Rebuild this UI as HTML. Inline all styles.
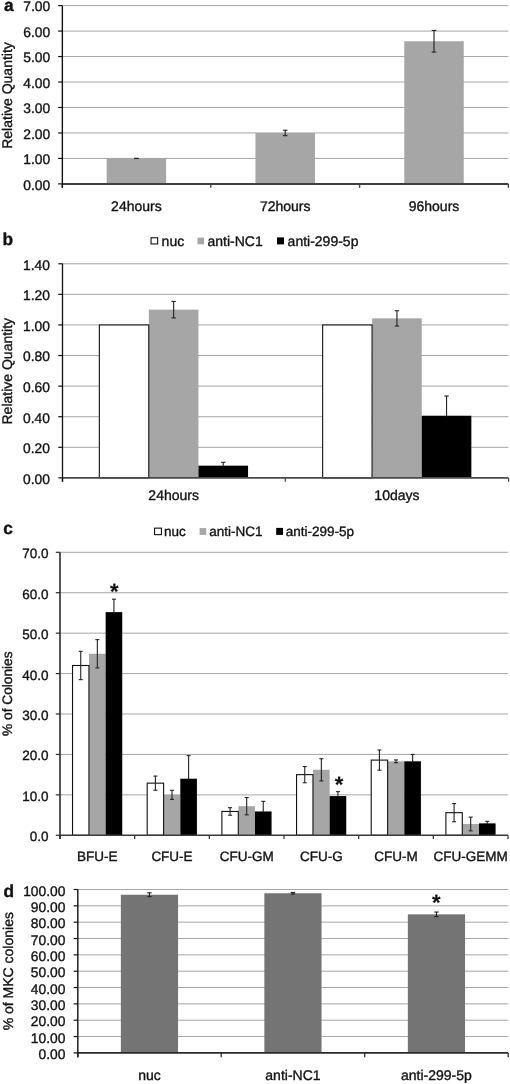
<!DOCTYPE html>
<html><head><meta charset="utf-8"><style>
html,body{margin:0;padding:0;background:#fff;}
body{width:510px;height:1084px;overflow:hidden;}
svg{display:block;font-family:"Liberation Sans",sans-serif;filter:grayscale(1);text-rendering:geometricPrecision;}
text{fill:#111;stroke:#111;stroke-width:0.35px;}
</style></head><body>
<svg width="510" height="1084" viewBox="0 0 510 1084">
<rect x="0" y="0" width="510" height="1084" fill="#fff"/>
<text x="3.90" y="10.90" font-size="17.3" text-anchor="start" font-weight="bold">a</text>
<line x1="62.35" y1="158.43" x2="508.30" y2="158.43" stroke="#a6a6a6" stroke-width="1"/>
<line x1="62.35" y1="132.96" x2="508.30" y2="132.96" stroke="#a6a6a6" stroke-width="1"/>
<line x1="62.35" y1="107.49" x2="508.30" y2="107.49" stroke="#a6a6a6" stroke-width="1"/>
<line x1="62.35" y1="82.02" x2="508.30" y2="82.02" stroke="#a6a6a6" stroke-width="1"/>
<line x1="62.35" y1="56.55" x2="508.30" y2="56.55" stroke="#a6a6a6" stroke-width="1"/>
<line x1="62.35" y1="31.08" x2="508.30" y2="31.08" stroke="#a6a6a6" stroke-width="1"/>
<line x1="62.35" y1="5.61" x2="508.30" y2="5.61" stroke="#a6a6a6" stroke-width="1"/>
<rect x="106.65" y="158.43" width="59.50" height="25.47" fill="#a6a6a6"/>
<line x1="136.40" y1="158.33" x2="136.40" y2="158.53" stroke="#222" stroke-width="1.1"/>
<line x1="134.10" y1="158.33" x2="138.70" y2="158.33" stroke="#222" stroke-width="1.1"/>
<line x1="134.10" y1="158.53" x2="138.70" y2="158.53" stroke="#222" stroke-width="1.1"/>
<rect x="255.45" y="132.96" width="59.50" height="50.94" fill="#a6a6a6"/>
<line x1="285.20" y1="130.23" x2="285.20" y2="135.69" stroke="#222" stroke-width="1.1"/>
<line x1="282.90" y1="130.23" x2="287.50" y2="130.23" stroke="#222" stroke-width="1.1"/>
<line x1="282.90" y1="135.69" x2="287.50" y2="135.69" stroke="#222" stroke-width="1.1"/>
<rect x="404.25" y="41.27" width="59.50" height="142.63" fill="#a6a6a6"/>
<line x1="434.00" y1="30.44" x2="434.00" y2="52.09" stroke="#222" stroke-width="1.1"/>
<line x1="431.70" y1="30.44" x2="436.30" y2="30.44" stroke="#222" stroke-width="1.1"/>
<line x1="431.70" y1="52.09" x2="436.30" y2="52.09" stroke="#222" stroke-width="1.1"/>
<line x1="58.15" y1="183.90" x2="62.35" y2="183.90" stroke="#111" stroke-width="1.2"/>
<text x="50.10" y="189.70" font-size="13.8" text-anchor="end" font-weight="normal">0.00</text>
<line x1="58.15" y1="158.43" x2="62.35" y2="158.43" stroke="#111" stroke-width="1.2"/>
<text x="50.10" y="164.23" font-size="13.8" text-anchor="end" font-weight="normal">1.00</text>
<line x1="58.15" y1="132.96" x2="62.35" y2="132.96" stroke="#111" stroke-width="1.2"/>
<text x="50.10" y="138.76" font-size="13.8" text-anchor="end" font-weight="normal">2.00</text>
<line x1="58.15" y1="107.49" x2="62.35" y2="107.49" stroke="#111" stroke-width="1.2"/>
<text x="50.10" y="113.29" font-size="13.8" text-anchor="end" font-weight="normal">3.00</text>
<line x1="58.15" y1="82.02" x2="62.35" y2="82.02" stroke="#111" stroke-width="1.2"/>
<text x="50.10" y="87.82" font-size="13.8" text-anchor="end" font-weight="normal">4.00</text>
<line x1="58.15" y1="56.55" x2="62.35" y2="56.55" stroke="#111" stroke-width="1.2"/>
<text x="50.10" y="62.35" font-size="13.8" text-anchor="end" font-weight="normal">5.00</text>
<line x1="58.15" y1="31.08" x2="62.35" y2="31.08" stroke="#111" stroke-width="1.2"/>
<text x="50.10" y="36.88" font-size="13.8" text-anchor="end" font-weight="normal">6.00</text>
<line x1="58.15" y1="5.61" x2="62.35" y2="5.61" stroke="#111" stroke-width="1.2"/>
<text x="50.10" y="11.41" font-size="13.8" text-anchor="end" font-weight="normal">7.00</text>
<line x1="62.35" y1="183.90" x2="508.30" y2="183.90" stroke="#404040" stroke-width="2.0"/>
<line x1="62.35" y1="183.90" x2="62.35" y2="187.80" stroke="#404040" stroke-width="1.3"/>
<line x1="210.80" y1="183.90" x2="210.80" y2="187.80" stroke="#404040" stroke-width="1.3"/>
<line x1="359.60" y1="183.90" x2="359.60" y2="187.80" stroke="#404040" stroke-width="1.3"/>
<line x1="508.40" y1="183.90" x2="508.40" y2="187.80" stroke="#404040" stroke-width="1.3"/>
<line x1="62.35" y1="5.61" x2="62.35" y2="187.80" stroke="#111" stroke-width="1.4"/>
<text x="136.40" y="210.70" font-size="14" text-anchor="middle" font-weight="normal">24hours</text>
<text x="285.20" y="210.70" font-size="14" text-anchor="middle" font-weight="normal">72hours</text>
<text x="434.00" y="210.70" font-size="14" text-anchor="middle" font-weight="normal">96hours</text>
<text x="0.00" y="0.00" font-size="14" text-anchor="middle" font-weight="normal" transform="translate(12.2,95.5) rotate(-90)">Relative Quantity</text>
<text x="2.60" y="244.80" font-size="17.3" text-anchor="start" font-weight="bold">b</text>
<rect x="151.05" y="237.75" width="6.60" height="6.20" fill="#fff" stroke="#111" stroke-width="1.1"/>
<text x="161.60" y="245.90" font-size="14" text-anchor="start" font-weight="normal">nuc</text>
<rect x="197.50" y="237.60" width="6.50" height="6.70" fill="#a6a6a6"/>
<text x="207.50" y="245.90" font-size="14" text-anchor="start" font-weight="normal">anti-NC1</text>
<rect x="277.00" y="237.40" width="7.00" height="7.00" fill="#000"/>
<text x="287.60" y="245.90" font-size="14" text-anchor="start" font-weight="normal">anti-299-5p</text>
<line x1="62.50" y1="447.31" x2="508.30" y2="447.31" stroke="#a6a6a6" stroke-width="1"/>
<line x1="62.50" y1="416.72" x2="508.30" y2="416.72" stroke="#a6a6a6" stroke-width="1"/>
<line x1="62.50" y1="386.13" x2="508.30" y2="386.13" stroke="#a6a6a6" stroke-width="1"/>
<line x1="62.50" y1="355.54" x2="508.30" y2="355.54" stroke="#a6a6a6" stroke-width="1"/>
<line x1="62.50" y1="324.95" x2="508.30" y2="324.95" stroke="#a6a6a6" stroke-width="1"/>
<line x1="62.50" y1="294.36" x2="508.30" y2="294.36" stroke="#a6a6a6" stroke-width="1"/>
<line x1="62.50" y1="263.77" x2="508.30" y2="263.77" stroke="#a6a6a6" stroke-width="1"/>
<rect x="148.85" y="309.65" width="49.60" height="168.25" fill="#a6a6a6"/>
<rect x="198.45" y="465.66" width="49.60" height="12.24" fill="#000"/>
<rect x="99.35" y="324.95" width="49.40" height="152.95" fill="#fff" stroke="#111" stroke-width="1.1"/>
<line x1="173.65" y1="301.40" x2="173.65" y2="317.91" stroke="#222" stroke-width="1.1"/>
<line x1="171.45" y1="301.40" x2="175.85" y2="301.40" stroke="#222" stroke-width="1.1"/>
<line x1="171.45" y1="317.91" x2="175.85" y2="317.91" stroke="#222" stroke-width="1.1"/>
<line x1="223.25" y1="462.30" x2="223.25" y2="466.66" stroke="#222" stroke-width="1.1"/>
<line x1="221.05" y1="462.30" x2="225.45" y2="462.30" stroke="#222" stroke-width="1.1"/>
<rect x="372.15" y="318.37" width="49.60" height="159.53" fill="#a6a6a6"/>
<rect x="421.75" y="415.73" width="49.60" height="62.17" fill="#000"/>
<rect x="322.65" y="324.95" width="49.40" height="152.95" fill="#fff" stroke="#111" stroke-width="1.1"/>
<line x1="396.95" y1="310.73" x2="396.95" y2="326.02" stroke="#222" stroke-width="1.1"/>
<line x1="394.75" y1="310.73" x2="399.15" y2="310.73" stroke="#222" stroke-width="1.1"/>
<line x1="394.75" y1="326.02" x2="399.15" y2="326.02" stroke="#222" stroke-width="1.1"/>
<line x1="446.55" y1="396.00" x2="446.55" y2="416.73" stroke="#222" stroke-width="1.1"/>
<line x1="444.35" y1="396.00" x2="448.75" y2="396.00" stroke="#222" stroke-width="1.1"/>
<line x1="58.30" y1="477.90" x2="62.50" y2="477.90" stroke="#111" stroke-width="1.2"/>
<text x="49.90" y="483.80" font-size="13.8" text-anchor="end" font-weight="normal">0.00</text>
<line x1="58.30" y1="447.31" x2="62.50" y2="447.31" stroke="#111" stroke-width="1.2"/>
<text x="49.90" y="453.21" font-size="13.8" text-anchor="end" font-weight="normal">0.20</text>
<line x1="58.30" y1="416.72" x2="62.50" y2="416.72" stroke="#111" stroke-width="1.2"/>
<text x="49.90" y="422.62" font-size="13.8" text-anchor="end" font-weight="normal">0.40</text>
<line x1="58.30" y1="386.13" x2="62.50" y2="386.13" stroke="#111" stroke-width="1.2"/>
<text x="49.90" y="392.03" font-size="13.8" text-anchor="end" font-weight="normal">0.60</text>
<line x1="58.30" y1="355.54" x2="62.50" y2="355.54" stroke="#111" stroke-width="1.2"/>
<text x="49.90" y="361.44" font-size="13.8" text-anchor="end" font-weight="normal">0.80</text>
<line x1="58.30" y1="324.95" x2="62.50" y2="324.95" stroke="#111" stroke-width="1.2"/>
<text x="49.90" y="330.85" font-size="13.8" text-anchor="end" font-weight="normal">1.00</text>
<line x1="58.30" y1="294.36" x2="62.50" y2="294.36" stroke="#111" stroke-width="1.2"/>
<text x="49.90" y="300.26" font-size="13.8" text-anchor="end" font-weight="normal">1.20</text>
<line x1="58.30" y1="263.77" x2="62.50" y2="263.77" stroke="#111" stroke-width="1.2"/>
<text x="49.90" y="269.67" font-size="13.8" text-anchor="end" font-weight="normal">1.40</text>
<line x1="62.50" y1="477.90" x2="508.30" y2="477.90" stroke="#4a4a4a" stroke-width="1.7"/>
<line x1="62.50" y1="477.90" x2="62.50" y2="481.80" stroke="#4a4a4a" stroke-width="1.3"/>
<line x1="285.30" y1="477.90" x2="285.30" y2="481.80" stroke="#4a4a4a" stroke-width="1.3"/>
<line x1="508.60" y1="477.90" x2="508.60" y2="481.80" stroke="#4a4a4a" stroke-width="1.3"/>
<line x1="62.50" y1="263.77" x2="62.50" y2="481.80" stroke="#111" stroke-width="1.3"/>
<text x="173.65" y="499.90" font-size="14" text-anchor="middle" font-weight="normal">24hours</text>
<text x="396.95" y="499.90" font-size="14" text-anchor="middle" font-weight="normal">10days</text>
<text x="0.00" y="0.00" font-size="14" text-anchor="middle" font-weight="normal" transform="translate(12.2,371.2) rotate(-90)">Relative Quantity</text>
<text x="3.20" y="534.40" font-size="17.3" text-anchor="start" font-weight="bold">c</text>
<rect x="154.55" y="528.15" width="6.90" height="6.50" fill="#fff" stroke="#111" stroke-width="1.1"/>
<text x="164.00" y="535.60" font-size="13.5" text-anchor="start" font-weight="normal">nuc</text>
<rect x="199.60" y="528.10" width="6.60" height="6.80" fill="#a6a6a6"/>
<text x="209.20" y="535.60" font-size="13.5" text-anchor="start" font-weight="normal">anti-NC1</text>
<rect x="276.20" y="527.90" width="6.80" height="7.00" fill="#000"/>
<text x="285.80" y="535.60" font-size="13.5" text-anchor="start" font-weight="normal">anti-299-5p</text>
<line x1="60.00" y1="794.87" x2="508.00" y2="794.87" stroke="#a6a6a6" stroke-width="1"/>
<line x1="60.00" y1="754.44" x2="508.00" y2="754.44" stroke="#a6a6a6" stroke-width="1"/>
<line x1="60.00" y1="714.01" x2="508.00" y2="714.01" stroke="#a6a6a6" stroke-width="1"/>
<line x1="60.00" y1="673.58" x2="508.00" y2="673.58" stroke="#a6a6a6" stroke-width="1"/>
<line x1="60.00" y1="633.15" x2="508.00" y2="633.15" stroke="#a6a6a6" stroke-width="1"/>
<line x1="60.00" y1="592.72" x2="508.00" y2="592.72" stroke="#a6a6a6" stroke-width="1"/>
<line x1="60.00" y1="552.29" x2="508.00" y2="552.29" stroke="#a6a6a6" stroke-width="1"/>
<rect x="89.03" y="653.77" width="16.60" height="181.53" fill="#a6a6a6"/>
<rect x="105.64" y="612.13" width="16.60" height="223.17" fill="#000"/>
<rect x="72.53" y="665.49" width="16.40" height="169.81" fill="#fff" stroke="#111" stroke-width="1.1"/>
<line x1="80.73" y1="651.34" x2="80.73" y2="679.64" stroke="#222" stroke-width="1.1"/>
<line x1="78.73" y1="651.34" x2="82.73" y2="651.34" stroke="#222" stroke-width="1.1"/>
<line x1="78.73" y1="679.64" x2="82.73" y2="679.64" stroke="#222" stroke-width="1.1"/>
<line x1="97.34" y1="639.62" x2="97.34" y2="667.92" stroke="#222" stroke-width="1.1"/>
<line x1="95.34" y1="639.62" x2="99.34" y2="639.62" stroke="#222" stroke-width="1.1"/>
<line x1="95.34" y1="667.92" x2="99.34" y2="667.92" stroke="#222" stroke-width="1.1"/>
<line x1="113.94" y1="599.19" x2="113.94" y2="613.13" stroke="#222" stroke-width="1.1"/>
<line x1="111.94" y1="599.19" x2="115.94" y2="599.19" stroke="#222" stroke-width="1.1"/>
<rect x="163.70" y="794.87" width="16.60" height="40.43" fill="#a6a6a6"/>
<rect x="180.31" y="778.70" width="16.60" height="56.60" fill="#000"/>
<rect x="147.20" y="783.15" width="16.40" height="52.15" fill="#fff" stroke="#111" stroke-width="1.1"/>
<line x1="155.41" y1="776.07" x2="155.41" y2="790.22" stroke="#222" stroke-width="1.1"/>
<line x1="153.41" y1="776.07" x2="157.41" y2="776.07" stroke="#222" stroke-width="1.1"/>
<line x1="153.41" y1="790.22" x2="157.41" y2="790.22" stroke="#222" stroke-width="1.1"/>
<line x1="172.00" y1="790.34" x2="172.00" y2="799.40" stroke="#222" stroke-width="1.1"/>
<line x1="170.00" y1="790.34" x2="174.00" y2="790.34" stroke="#222" stroke-width="1.1"/>
<line x1="170.00" y1="799.40" x2="174.00" y2="799.40" stroke="#222" stroke-width="1.1"/>
<line x1="188.60" y1="755.65" x2="188.60" y2="779.70" stroke="#222" stroke-width="1.1"/>
<line x1="186.60" y1="755.65" x2="190.60" y2="755.65" stroke="#222" stroke-width="1.1"/>
<rect x="238.38" y="806.19" width="16.60" height="29.11" fill="#a6a6a6"/>
<rect x="254.98" y="811.45" width="16.60" height="23.85" fill="#000"/>
<rect x="221.88" y="811.45" width="16.40" height="23.85" fill="#fff" stroke="#111" stroke-width="1.1"/>
<line x1="230.08" y1="807.69" x2="230.08" y2="815.21" stroke="#222" stroke-width="1.1"/>
<line x1="228.08" y1="807.69" x2="232.08" y2="807.69" stroke="#222" stroke-width="1.1"/>
<line x1="228.08" y1="815.21" x2="232.08" y2="815.21" stroke="#222" stroke-width="1.1"/>
<line x1="246.68" y1="797.54" x2="246.68" y2="814.84" stroke="#222" stroke-width="1.1"/>
<line x1="244.68" y1="797.54" x2="248.68" y2="797.54" stroke="#222" stroke-width="1.1"/>
<line x1="244.68" y1="814.84" x2="248.68" y2="814.84" stroke="#222" stroke-width="1.1"/>
<line x1="263.27" y1="801.34" x2="263.27" y2="812.45" stroke="#222" stroke-width="1.1"/>
<line x1="261.27" y1="801.34" x2="265.27" y2="801.34" stroke="#222" stroke-width="1.1"/>
<rect x="313.05" y="769.80" width="16.60" height="65.50" fill="#a6a6a6"/>
<rect x="329.65" y="796.08" width="16.60" height="39.22" fill="#000"/>
<rect x="296.55" y="774.65" width="16.40" height="60.64" fill="#fff" stroke="#111" stroke-width="1.1"/>
<line x1="304.75" y1="766.57" x2="304.75" y2="782.74" stroke="#222" stroke-width="1.1"/>
<line x1="302.75" y1="766.57" x2="306.75" y2="766.57" stroke="#222" stroke-width="1.1"/>
<line x1="302.75" y1="782.74" x2="306.75" y2="782.74" stroke="#222" stroke-width="1.1"/>
<line x1="321.35" y1="758.69" x2="321.35" y2="780.92" stroke="#222" stroke-width="1.1"/>
<line x1="319.35" y1="758.69" x2="323.35" y2="758.69" stroke="#222" stroke-width="1.1"/>
<line x1="319.35" y1="780.92" x2="323.35" y2="780.92" stroke="#222" stroke-width="1.1"/>
<line x1="337.95" y1="791.64" x2="337.95" y2="797.08" stroke="#222" stroke-width="1.1"/>
<line x1="335.95" y1="791.64" x2="339.95" y2="791.64" stroke="#222" stroke-width="1.1"/>
<rect x="387.72" y="761.31" width="16.60" height="73.99" fill="#a6a6a6"/>
<rect x="404.31" y="761.31" width="16.60" height="73.99" fill="#000"/>
<rect x="371.22" y="760.10" width="16.40" height="75.20" fill="#fff" stroke="#111" stroke-width="1.1"/>
<line x1="379.42" y1="749.99" x2="379.42" y2="770.21" stroke="#222" stroke-width="1.1"/>
<line x1="377.42" y1="749.99" x2="381.42" y2="749.99" stroke="#222" stroke-width="1.1"/>
<line x1="377.42" y1="770.21" x2="381.42" y2="770.21" stroke="#222" stroke-width="1.1"/>
<line x1="396.01" y1="759.90" x2="396.01" y2="762.73" stroke="#222" stroke-width="1.1"/>
<line x1="394.01" y1="759.90" x2="398.01" y2="759.90" stroke="#222" stroke-width="1.1"/>
<line x1="394.01" y1="762.73" x2="398.01" y2="762.73" stroke="#222" stroke-width="1.1"/>
<line x1="412.62" y1="754.44" x2="412.62" y2="762.31" stroke="#222" stroke-width="1.1"/>
<line x1="410.62" y1="754.44" x2="414.62" y2="754.44" stroke="#222" stroke-width="1.1"/>
<rect x="462.39" y="823.98" width="16.60" height="11.32" fill="#a6a6a6"/>
<rect x="478.99" y="823.37" width="16.60" height="11.93" fill="#000"/>
<rect x="445.89" y="812.66" width="16.40" height="22.64" fill="#fff" stroke="#111" stroke-width="1.1"/>
<line x1="454.09" y1="803.56" x2="454.09" y2="821.76" stroke="#222" stroke-width="1.1"/>
<line x1="452.09" y1="803.56" x2="456.09" y2="803.56" stroke="#222" stroke-width="1.1"/>
<line x1="452.09" y1="821.76" x2="456.09" y2="821.76" stroke="#222" stroke-width="1.1"/>
<line x1="470.69" y1="817.11" x2="470.69" y2="830.85" stroke="#222" stroke-width="1.1"/>
<line x1="468.69" y1="817.11" x2="472.69" y2="817.11" stroke="#222" stroke-width="1.1"/>
<line x1="468.69" y1="830.85" x2="472.69" y2="830.85" stroke="#222" stroke-width="1.1"/>
<line x1="487.29" y1="821.35" x2="487.29" y2="824.37" stroke="#222" stroke-width="1.1"/>
<line x1="485.29" y1="821.35" x2="489.29" y2="821.35" stroke="#222" stroke-width="1.1"/>
<line x1="55.80" y1="835.30" x2="60.00" y2="835.30" stroke="#2a2a2a" stroke-width="1.2"/>
<text x="48.50" y="841.30" font-size="13.5" text-anchor="end" font-weight="normal">0.0</text>
<line x1="55.80" y1="794.87" x2="60.00" y2="794.87" stroke="#2a2a2a" stroke-width="1.2"/>
<text x="48.50" y="800.87" font-size="13.5" text-anchor="end" font-weight="normal">10.0</text>
<line x1="55.80" y1="754.44" x2="60.00" y2="754.44" stroke="#2a2a2a" stroke-width="1.2"/>
<text x="48.50" y="760.44" font-size="13.5" text-anchor="end" font-weight="normal">20.0</text>
<line x1="55.80" y1="714.01" x2="60.00" y2="714.01" stroke="#2a2a2a" stroke-width="1.2"/>
<text x="48.50" y="720.01" font-size="13.5" text-anchor="end" font-weight="normal">30.0</text>
<line x1="55.80" y1="673.58" x2="60.00" y2="673.58" stroke="#2a2a2a" stroke-width="1.2"/>
<text x="48.50" y="679.58" font-size="13.5" text-anchor="end" font-weight="normal">40.0</text>
<line x1="55.80" y1="633.15" x2="60.00" y2="633.15" stroke="#2a2a2a" stroke-width="1.2"/>
<text x="48.50" y="639.15" font-size="13.5" text-anchor="end" font-weight="normal">50.0</text>
<line x1="55.80" y1="592.72" x2="60.00" y2="592.72" stroke="#2a2a2a" stroke-width="1.2"/>
<text x="48.50" y="598.72" font-size="13.5" text-anchor="end" font-weight="normal">60.0</text>
<line x1="55.80" y1="552.29" x2="60.00" y2="552.29" stroke="#2a2a2a" stroke-width="1.2"/>
<text x="48.50" y="558.29" font-size="13.5" text-anchor="end" font-weight="normal">70.0</text>
<line x1="60.00" y1="835.30" x2="508.00" y2="835.30" stroke="#3a3a3a" stroke-width="1.6"/>
<line x1="60.00" y1="835.30" x2="60.00" y2="839.10" stroke="#3a3a3a" stroke-width="1.3"/>
<line x1="134.67" y1="835.30" x2="134.67" y2="839.10" stroke="#3a3a3a" stroke-width="1.3"/>
<line x1="209.34" y1="835.30" x2="209.34" y2="839.10" stroke="#3a3a3a" stroke-width="1.3"/>
<line x1="284.01" y1="835.30" x2="284.01" y2="839.10" stroke="#3a3a3a" stroke-width="1.3"/>
<line x1="358.68" y1="835.30" x2="358.68" y2="839.10" stroke="#3a3a3a" stroke-width="1.3"/>
<line x1="433.35" y1="835.30" x2="433.35" y2="839.10" stroke="#3a3a3a" stroke-width="1.3"/>
<line x1="508.02" y1="835.30" x2="508.02" y2="839.10" stroke="#3a3a3a" stroke-width="1.3"/>
<line x1="60.00" y1="552.29" x2="60.00" y2="839.10" stroke="#2a2a2a" stroke-width="1.6"/>
<text x="97.34" y="860.60" font-size="13.5" text-anchor="middle" font-weight="normal">BFU-E</text>
<text x="172.00" y="860.60" font-size="13.5" text-anchor="middle" font-weight="normal">CFU-E</text>
<text x="246.68" y="860.60" font-size="13.5" text-anchor="middle" font-weight="normal">CFU-GM</text>
<text x="321.35" y="860.60" font-size="13.5" text-anchor="middle" font-weight="normal">CFU-G</text>
<text x="396.01" y="860.60" font-size="13.5" text-anchor="middle" font-weight="normal">CFU-M</text>
<text x="470.69" y="860.60" font-size="13.5" text-anchor="middle" font-weight="normal">CFU-GEMM</text>
<text x="0.00" y="0.00" font-size="13.7" text-anchor="middle" font-weight="normal" transform="translate(11.7,693.7) rotate(-90)">% of Colonies</text>
<text x="114.30" y="598.90" font-size="22" text-anchor="middle" font-weight="bold" style="stroke-width:0.15px">*</text>
<text x="339.10" y="791.50" font-size="22" text-anchor="middle" font-weight="bold" style="stroke-width:0.15px">*</text>
<text x="3.40" y="896.50" font-size="17.3" text-anchor="start" font-weight="bold">d</text>
<line x1="77.80" y1="1036.56" x2="508.20" y2="1036.56" stroke="#a6a6a6" stroke-width="1"/>
<line x1="77.80" y1="1020.22" x2="508.20" y2="1020.22" stroke="#a6a6a6" stroke-width="1"/>
<line x1="77.80" y1="1003.88" x2="508.20" y2="1003.88" stroke="#a6a6a6" stroke-width="1"/>
<line x1="77.80" y1="987.54" x2="508.20" y2="987.54" stroke="#a6a6a6" stroke-width="1"/>
<line x1="77.80" y1="971.20" x2="508.20" y2="971.20" stroke="#a6a6a6" stroke-width="1"/>
<line x1="77.80" y1="954.86" x2="508.20" y2="954.86" stroke="#a6a6a6" stroke-width="1"/>
<line x1="77.80" y1="938.52" x2="508.20" y2="938.52" stroke="#a6a6a6" stroke-width="1"/>
<line x1="77.80" y1="922.18" x2="508.20" y2="922.18" stroke="#a6a6a6" stroke-width="1"/>
<line x1="77.80" y1="905.84" x2="508.20" y2="905.84" stroke="#a6a6a6" stroke-width="1"/>
<line x1="77.80" y1="889.50" x2="508.20" y2="889.50" stroke="#a6a6a6" stroke-width="1"/>
<rect x="120.85" y="894.73" width="57.20" height="158.17" fill="#747474"/>
<line x1="149.45" y1="892.77" x2="149.45" y2="896.69" stroke="#222" stroke-width="1.1"/>
<line x1="147.25" y1="892.77" x2="151.65" y2="892.77" stroke="#222" stroke-width="1.1"/>
<line x1="147.25" y1="896.69" x2="151.65" y2="896.69" stroke="#222" stroke-width="1.1"/>
<rect x="264.35" y="893.26" width="57.20" height="159.64" fill="#747474"/>
<line x1="292.95" y1="892.44" x2="292.95" y2="894.08" stroke="#222" stroke-width="1.1"/>
<line x1="290.75" y1="892.44" x2="295.15" y2="892.44" stroke="#222" stroke-width="1.1"/>
<line x1="290.75" y1="894.08" x2="295.15" y2="894.08" stroke="#222" stroke-width="1.1"/>
<rect x="407.85" y="914.34" width="57.20" height="138.56" fill="#747474"/>
<line x1="436.45" y1="912.05" x2="436.45" y2="916.62" stroke="#222" stroke-width="1.1"/>
<line x1="434.25" y1="912.05" x2="438.65" y2="912.05" stroke="#222" stroke-width="1.1"/>
<line x1="434.25" y1="916.62" x2="438.65" y2="916.62" stroke="#222" stroke-width="1.1"/>
<line x1="73.60" y1="1052.90" x2="77.80" y2="1052.90" stroke="#111" stroke-width="1.2"/>
<text x="65.40" y="1059.10" font-size="13.8" text-anchor="end" font-weight="normal">0.00</text>
<line x1="73.60" y1="1036.56" x2="77.80" y2="1036.56" stroke="#111" stroke-width="1.2"/>
<text x="65.40" y="1042.76" font-size="13.8" text-anchor="end" font-weight="normal">10.00</text>
<line x1="73.60" y1="1020.22" x2="77.80" y2="1020.22" stroke="#111" stroke-width="1.2"/>
<text x="65.40" y="1026.42" font-size="13.8" text-anchor="end" font-weight="normal">20.00</text>
<line x1="73.60" y1="1003.88" x2="77.80" y2="1003.88" stroke="#111" stroke-width="1.2"/>
<text x="65.40" y="1010.08" font-size="13.8" text-anchor="end" font-weight="normal">30.00</text>
<line x1="73.60" y1="987.54" x2="77.80" y2="987.54" stroke="#111" stroke-width="1.2"/>
<text x="65.40" y="993.74" font-size="13.8" text-anchor="end" font-weight="normal">40.00</text>
<line x1="73.60" y1="971.20" x2="77.80" y2="971.20" stroke="#111" stroke-width="1.2"/>
<text x="65.40" y="977.40" font-size="13.8" text-anchor="end" font-weight="normal">50.00</text>
<line x1="73.60" y1="954.86" x2="77.80" y2="954.86" stroke="#111" stroke-width="1.2"/>
<text x="65.40" y="961.06" font-size="13.8" text-anchor="end" font-weight="normal">60.00</text>
<line x1="73.60" y1="938.52" x2="77.80" y2="938.52" stroke="#111" stroke-width="1.2"/>
<text x="65.40" y="944.72" font-size="13.8" text-anchor="end" font-weight="normal">70.00</text>
<line x1="73.60" y1="922.18" x2="77.80" y2="922.18" stroke="#111" stroke-width="1.2"/>
<text x="65.40" y="928.38" font-size="13.8" text-anchor="end" font-weight="normal">80.00</text>
<line x1="73.60" y1="905.84" x2="77.80" y2="905.84" stroke="#111" stroke-width="1.2"/>
<text x="65.40" y="912.04" font-size="13.8" text-anchor="end" font-weight="normal">90.00</text>
<line x1="73.60" y1="889.50" x2="77.80" y2="889.50" stroke="#111" stroke-width="1.2"/>
<text x="65.40" y="895.70" font-size="13.8" text-anchor="end" font-weight="normal">100.00</text>
<line x1="77.80" y1="1052.90" x2="508.20" y2="1052.90" stroke="#2a2a2a" stroke-width="1.8"/>
<line x1="77.80" y1="1052.90" x2="77.80" y2="1057.30" stroke="#2a2a2a" stroke-width="1.3"/>
<line x1="221.20" y1="1052.90" x2="221.20" y2="1057.30" stroke="#2a2a2a" stroke-width="1.3"/>
<line x1="364.70" y1="1052.90" x2="364.70" y2="1057.30" stroke="#2a2a2a" stroke-width="1.3"/>
<line x1="508.20" y1="1052.90" x2="508.20" y2="1057.30" stroke="#2a2a2a" stroke-width="1.3"/>
<line x1="77.80" y1="889.50" x2="77.80" y2="1057.30" stroke="#111" stroke-width="1.4"/>
<text x="149.45" y="1080.10" font-size="14" text-anchor="middle" font-weight="normal">nuc</text>
<text x="292.95" y="1080.10" font-size="14" text-anchor="middle" font-weight="normal">anti-NC1</text>
<text x="436.45" y="1080.10" font-size="14" text-anchor="middle" font-weight="normal">anti-299-5p</text>
<text x="0.00" y="0.00" font-size="14" text-anchor="middle" font-weight="normal" transform="translate(12.8,971.2) rotate(-90)">% of MKC colonies</text>
<text x="436.20" y="909.60" font-size="22" text-anchor="middle" font-weight="bold" style="stroke-width:0.15px">*</text>
</svg>
</body></html>
